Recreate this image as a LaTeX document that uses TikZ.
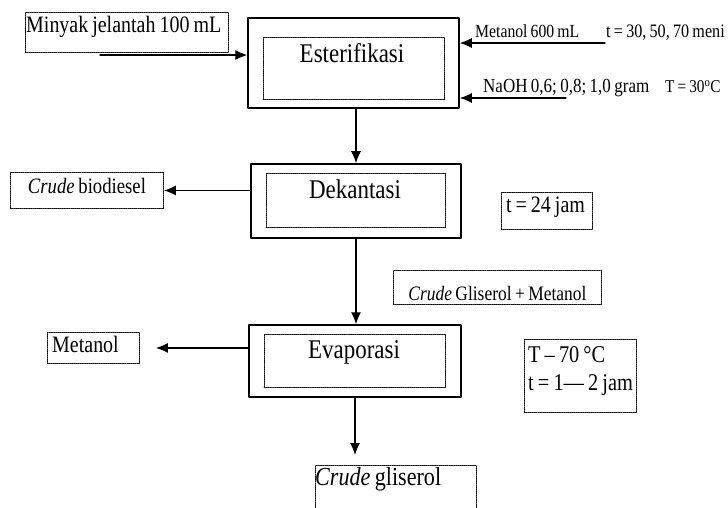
\documentclass[tikz,border=0pt]{standalone}
\usepackage{fontspec}
\setmainfont{Liberation Serif}[FakeStretch=0.85, WordSpace=0.8]
\usetikzlibrary{arrows.meta}

\begin{document}
\begin{tikzpicture}[line cap=round,line join=round,x=1pt,y=-1pt,
  procbox/.style={draw, line width=1.5pt, inner sep=0pt},
  innerbox/.style={draw, densely dotted, line width=0.9pt, inner sep=0pt},
  proctext/.style={anchor=base, inner sep=0pt, font=\fontsize{27}{30}\selectfont},
  sidebox/.style={draw, densely dotted, line width=0.9pt, inner sep=0pt, anchor=north west},
  plain/.style={anchor=base west, inner sep=0pt},
  flow/.style={line width=1.2pt, -{Latex[length=12pt, width=10pt]}}]
\clip(0,0) rectangle (728,508);

\node[procbox, minimum width=211pt, minimum height=90pt] (est) at (353.5,63) {};
\node[innerbox, minimum width=181pt, minimum height=62pt] (estin) at (353.5,68) {};
\node[proctext] (esttxt) at (352,63) {Esterifikasi};

\node[procbox, minimum width=210pt, minimum height=74pt] (dek) at (356,201) {};
\node[innerbox, minimum width=179pt, minimum height=54pt] (dekin) at (355.5,200) {};
\node[proctext] (dektxt) at (355,198) {Dekantasi};

\node[procbox, minimum width=212pt, minimum height=72pt] (eva) at (355,361) {};
\node[innerbox, minimum width=181pt, minimum height=53pt] (evain) at (354.5,360.5) {};
\node[proctext] (evatxt) at (354,358) {Evaporasi};

\node[sidebox, minimum width=203pt, minimum height=40pt] (minyak) at (25,12) {};
\node[plain, font=\fontsize{23.5}{26}\selectfont] (minyaktxt) at (26,33) {Minyak jelantah 100 mL};
\node[plain, font=\fontsize{18.5}{22}\selectfont] (metanolin) at (475,38) {Metanol 600 mL};
\node[plain, font=\fontsize{19}{22}\selectfont] (waktu) at (606,38) {t = 30, 50, 70 meni};
\node[plain, font=\fontsize{20}{22}\selectfont] (naoh) at (483,93) {NaOH 0,6; 0,8; 1,0 gram};
\node[plain, font=\fontsize{18}{22}\selectfont] (suhu) at (665,93) {T = 30\textsuperscript{o}C};

\node[sidebox, minimum width=153pt, text height=21pt, text depth=15pt, font=\fontsize{22}{26}\selectfont] (cbio) at (10,172) {\textit{Crude} biodiesel};
\node[sidebox, minimum width=91pt, minimum height=37pt] (t24) at (501,192) {};
\node[plain, font=\fontsize{23.5}{26}\selectfont] (t24txt) at (506,212) {t = 24 jam};
\node[sidebox, minimum width=208pt, text height=30pt, text depth=4pt, font=\fontsize{20.5}{24}\selectfont] (cgm) at (393,270) {\textit{Crude} Gliserol + Metanol};
\node[sidebox, minimum width=92pt, minimum height=31pt] (met) at (47,332) {};
\node[plain, font=\fontsize{23.5}{26}\selectfont] (mettxt) at (52,352) {Metanol};
\node[sidebox, minimum width=112pt, minimum height=73pt] (tevap) at (524,339) {};
\node[plain, font=\fontsize{24}{26}\selectfont] (tevapsuhu) at (528,362) {T – 70 °C};
\node[plain, font=\fontsize{24}{26}\selectfont] (tevapwaktu) at (528,390) {t = 1— 2 jam};
\node[sidebox, minimum width=161pt, minimum height=44pt] (cgl) at (315,465) {};
\node[plain, font=\fontsize{26}{28}\selectfont] (cgltxt) at (315,485) {\textit{Crude} gliserol};

\coordinate (minyakin) at (100,55);
\coordinate (metanolend) at (605,43);
\coordinate (naohend) at (566,98);

\draw[flow] (minyakin) -- (minyakin -| est.west);
\draw[flow] (metanolend) -- (metanolend -| est.east);
\draw[flow] (naohend) -- (naohend -| est.east);
\draw[flow] (est.south -| dek.north) -- (dek.north);
\draw[flow] (dek.west |- cbio.east) -- (cbio.east);
\draw[flow] (dek.south) -- (dek.south |- eva.north);
\draw[flow, shorten >=16pt] (eva.west |- met.east) -- (met.east);
\draw[flow, shorten >=10pt] (eva.south) -- (eva.south |- cgl.north);
\end{tikzpicture}
\end{document}
